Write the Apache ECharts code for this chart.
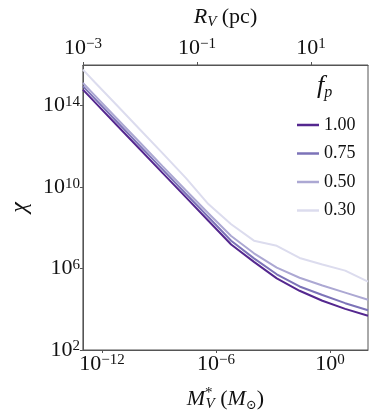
<!DOCTYPE html>
<html>
<head>
<meta charset="utf-8">
<script src="https://cdn.jsdelivr.net/npm/echarts@6/dist/echarts.min.js"></script>
<style>
  html, body { margin: 0; padding: 0; background: #fff; }
  #chart { width: 374px; height: 417px; }
</style>
</head>
<body>
<div id="chart"></div>
<script>
// log10 of M_V* (solar masses), shared by every curve
var logM = [-13, -12.4, -11.2, -10, -8.8, -7.6, -6.4, -5.2, -4, -2.8, -1.6, -0.4, 0.8, 2];
// log10 of chi for each f_p
var logChi100 = [14.79, 14.2, 13.03, 11.86, 10.69, 9.52, 8.35, 7.18, 6.33, 5.52, 4.91, 4.42, 4.02, 3.68];
var logChi075 = [14.96, 14.37, 13.2, 12.03, 10.86, 9.69, 8.53, 7.37, 6.5, 5.72, 5.12, 4.7, 4.3, 3.95];
var logChi050 = [15.12, 14.53, 13.36, 12.19, 11.02, 9.86, 8.72, 7.6, 6.75, 6.05, 5.55, 5.17, 4.82, 4.47];
var logChi030 = [15.77, 15.18, 14.01, 12.83, 11.66, 10.47, 9.17, 8.18, 7.37, 7.12, 6.52, 6.2, 5.9, 5.36];

var fpNames = ['1.00', '0.75', '0.50', '0.30'];
var colors = ['#54278f', '#7c73b8', '#aca8d3', '#dcdcee'];

// tick positions (exponents)
var xTicks = [-12, -6, 0];
var rTicks = [-3, -1, 1];
var yTicks = [2, 6, 10, 14];

var font = '"Liberation Serif", "DejaVu Serif", serif';
var axisColor = '#555';

function pow10(v) {
  var e = v < 0 ? '\u2212' + (-v) : '' + v;
  return '{b|10}{s|' + e + '}';
}
var powRich = {
  b: { fontFamily: font, fontSize: 22, lineHeight: 22, color: '#111', verticalAlign: 'bottom' },
  s: { fontFamily: font, fontSize: 15, lineHeight: 14, color: '#111', verticalAlign: 'top' }
};

function pairs(ys) {
  return logM.map(function (m, i) { return [m, ys[i]]; });
}

var chart = echarts.init(document.getElementById('chart'));
var allY = [logChi100, logChi075, logChi050, logChi030];

chart.setOption({
  animation: false,
  grid: {
    left: 79, right: 6, top: 65, bottom: 65,
    show: true, borderColor: axisColor, borderWidth: 1
  },
  xAxis: [{
    type: 'value', min: -13, max: 2, position: 'bottom',
    name: '{i|M}{sup|*}{sub|V}{n| (}{i|M}{sun|\u2299}{n|)}',
    nameLocation: 'middle', nameGap: 36,
    nameTextStyle: {
      rich: {
        i: { fontFamily: font, fontStyle: 'italic', fontSize: 22, lineHeight: 26, color: '#111', verticalAlign: 'middle' },
        n: { fontFamily: font, fontSize: 22, lineHeight: 26, color: '#111', verticalAlign: 'middle' },
        sup: { fontFamily: font, fontSize: 15, lineHeight: 14, color: '#111', verticalAlign: 'top', padding: [0, -7, 0, 0] },
        sub: { fontFamily: font, fontStyle: 'italic', fontSize: 15, lineHeight: 14, color: '#111', verticalAlign: 'bottom' },
        sun: { fontFamily: font, fontSize: 13, lineHeight: 20, color: '#111', verticalAlign: 'bottom' }
      }
    },
    splitLine: { show: false },
    axisLine: { onZero: false, lineStyle: { color: axisColor } },
    axisTick: { show: true, length: 3, customValues: xTicks, lineStyle: { color: axisColor } },
    axisLabel: { customValues: xTicks, margin: 3, formatter: pow10, rich: powRich }
  }, {
    type: 'value', min: -3, max: 2, position: 'top',
    name: '{i|R}{sub|V}{n| (pc)}',
    nameLocation: 'middle', nameGap: 35,
    nameTextStyle: {
      rich: {
        i: { fontFamily: font, fontStyle: 'italic', fontSize: 22, lineHeight: 26, color: '#111', verticalAlign: 'middle' },
        n: { fontFamily: font, fontSize: 22, lineHeight: 26, color: '#111', verticalAlign: 'middle' },
        sub: { fontFamily: font, fontStyle: 'italic', fontSize: 15, lineHeight: 14, color: '#111', verticalAlign: 'bottom' }
      }
    },
    splitLine: { show: false },
    axisLine: { onZero: false, lineStyle: { color: axisColor } },
    axisTick: { show: true, length: 3, customValues: rTicks, lineStyle: { color: axisColor } },
    axisLabel: { customValues: rTicks, margin: 6, formatter: pow10, rich: powRich }
  }],
  yAxis: {
    type: 'value', min: 2, max: 16,
    name: '\u03c7',
    nameLocation: 'middle', nameGap: 50,
    nameTextStyle: { fontFamily: font, fontStyle: 'italic', fontSize: 24, color: '#111' },
    splitLine: { show: false },
    axisLine: { onZero: false, lineStyle: { color: axisColor } },
    axisTick: { show: true, length: 3, customValues: yTicks, lineStyle: { color: axisColor } },
    axisLabel: { customValues: yTicks, margin: 3, formatter: pow10, rich: powRich }
  },
  legend: {
    orient: 'vertical',
    left: 292, top: 110,
    icon: 'rect', itemWidth: 22, itemHeight: 2.5, itemGap: 8.5,
    textStyle: { fontFamily: font, fontSize: 18, lineHeight: 20, color: '#111' },
    data: fpNames
  },
  graphic: [{
    type: 'text', left: 317, top: 73,
    style: {
      text: '{f|f}{p|p}',
      rich: {
        f: { fontFamily: font, fontStyle: 'italic', fontSize: 26, lineHeight: 26, fill: '#111', verticalAlign: 'middle' },
        p: { fontFamily: font, fontStyle: 'italic', fontSize: 16, lineHeight: 30, fill: '#111', verticalAlign: 'bottom' }
      }
    }
  }],
  series: fpNames.map(function (n, k) {
    return {
      name: n, type: 'line', xAxisIndex: 0,
      data: pairs(allY[k]),
      showSymbol: false,
      z: 10 - k,
      lineStyle: { color: colors[k], width: 2 },
      itemStyle: { color: colors[k] }
    };
  })
});
</script>
</body>
</html>
